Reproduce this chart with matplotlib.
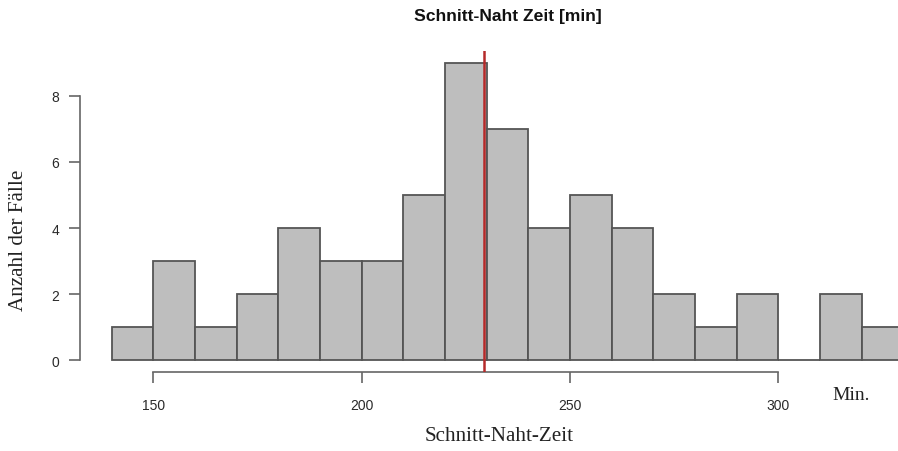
import numpy as np
import matplotlib
matplotlib.use("Agg")
import matplotlib.pyplot as plt

bin_edges = [140, 150, 160, 170, 180, 190, 200, 210, 220, 230,
             240, 250, 260, 270, 280, 290, 300, 310, 320, 330]
counts = [1, 3, 1, 2, 4, 3, 3, 5, 9, 7, 4, 5, 4, 2, 1, 2, 0, 2, 1]
mean_line = 229.4
x_ticks = [150, 200, 250, 300]
y_ticks = [0, 2, 4, 6, 8]

W, H = 898, 452
fig = plt.figure(figsize=(W / 100, H / 100), dpi=100)
# plot region runs past the right edge of the picture (the original is cropped)
ax = fig.add_axes([80 / W, 79 / H, (935 - 80) / W, (400 - 79) / H])

edges = np.array(bin_edges)
ax.bar(edges[:-1], counts, width=np.diff(edges), align="edge",
       color="#bebebe", edgecolor="#555555", linewidth=1.3, zorder=2)
ax.axvline(mean_line, color="#b52a2a", linewidth=1.8, zorder=3)

span = edges[-1] - edges[0]
ax.set_xlim(edges[0] - 0.04 * span, edges[-1] + 0.04 * span)
ax.set_ylim(-0.04 * 9, 9 * 1.04)

for s in ("top", "right"):
    ax.spines[s].set_visible(False)
ax.spines["left"].set_bounds(0, 8)
ax.spines["bottom"].set_bounds(150, 300)
for s in ("left", "bottom"):
    ax.spines[s].set_color("#666666")
    ax.spines[s].set_linewidth(1.2)

ax.set_xticks(x_ticks)
ax.set_yticks(y_ticks)
ax.tick_params(axis="both", colors="#666666", length=8, width=1.2,
               labelcolor="#2a2a2a", labelsize=10)
ax.tick_params(axis="x", pad=11)
ax.tick_params(axis="y", pad=7)
for lab in ax.get_xticklabels() + ax.get_yticklabels():
    lab.set_family("Liberation Sans")

fig.text(508 / W, 1 - 16 / H, "Schnitt-Naht Zeit [min]", ha="center", va="center",
         fontsize=12.6, fontweight="bold", family="Liberation Sans", color="#111111")
fig.text(499 / W, 1 - 437 / H, "Schnitt-Naht-Zeit", ha="center", va="center",
         fontsize=15.2, family="Liberation Serif", color="#222222")
fig.text(19 / W, 1 - 240 / H, "Anzahl der Fälle", ha="center", va="center",
         rotation=90, fontsize=15.2, family="Liberation Serif", color="#222222")
fig.text(851 / W, 1 - 396 / H, "Min.", ha="center", va="center",
         fontsize=14, family="Liberation Serif", color="#222222")

fig.savefig("out.png", dpi=100)
plt.close(fig)
